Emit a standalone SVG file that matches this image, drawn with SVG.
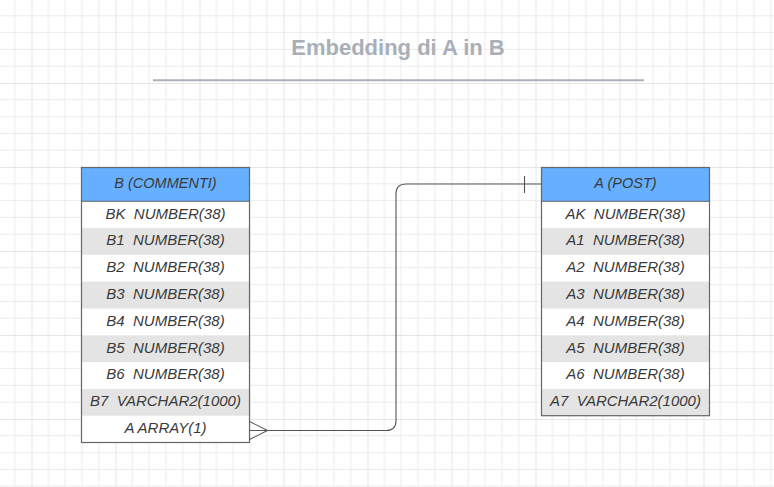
<svg xmlns="http://www.w3.org/2000/svg" width="774" height="487" viewBox="0 0 774 487">
  <defs>
    <pattern id="grid" patternUnits="userSpaceOnUse" x="31.5" y="83" width="84" height="84">
      <path d="M16.8 0V84M33.6 0V84M50.4 0V84M67.2 0V84M0 16.8H84M0 33.6H84M0 50.4H84M0 67.2H84" stroke="#ebebeb" stroke-width="1" fill="none"/>
      <path d="M0 0V84M0 0H84" stroke="#dedede" stroke-width="1.5" fill="none"/>
    </pattern>
    <style>
      .hdr { fill: #66b0ff; stroke: #666; stroke-width: 1; }
      .row { fill: #ffffff; }
      .alt { fill: #e4e4e4; }
      .frame { fill: none; stroke: #666; stroke-width: 1.2; }
      .t { font-family: "Liberation Sans", Arial, sans-serif; font-style: italic; font-size: 15px; fill: #3a3a3a; text-anchor: middle; white-space: pre; }
      .th { font-size: 14.5px; }
      .conn { fill: none; stroke: #555; stroke-width: 1.1; }
    </style>
  </defs>
  <rect width="774" height="487" fill="#ffffff"/>
  <rect width="774" height="487" fill="url(#grid)"/>

  <g id="title">
    <text x="398" y="54.5" font-family="Liberation Sans, Arial, sans-serif" font-weight="bold" font-size="22" fill="#a9afb9" text-anchor="middle">Embedding di A in B</text>
    <line x1="153" y1="80.3" x2="644" y2="80.3" stroke="#aab0bc" stroke-width="2"/>
  </g>

  <g id="tableB">
    <rect class="row" x="81.5" y="201.3" width="168" height="241.2"/>
    <rect class="alt" x="81.5" y="228.1" width="168" height="26.8"/>
    <rect class="alt" x="81.5" y="281.7" width="168" height="26.8"/>
    <rect class="alt" x="81.5" y="335.3" width="168" height="26.8"/>
    <rect class="alt" x="81.5" y="388.9" width="168" height="26.8"/>
    <rect class="hdr" x="81.5" y="167.5" width="168" height="33.8"/>
    <rect class="frame" x="81.5" y="167.5" width="168" height="275"/>
    <text class="t th" x="165.5" y="188">B (COMMENTI)</text>
    <text class="t" x="165.5" y="218.5">BK  NUMBER(38)</text>
    <text class="t" x="165.5" y="245.3">B1  NUMBER(38)</text>
    <text class="t" x="165.5" y="272.1">B2  NUMBER(38)</text>
    <text class="t" x="165.5" y="298.9">B3  NUMBER(38)</text>
    <text class="t" x="165.5" y="325.7">B4  NUMBER(38)</text>
    <text class="t" x="165.5" y="352.5">B5  NUMBER(38)</text>
    <text class="t" x="165.5" y="379.3">B6  NUMBER(38)</text>
    <text class="t" x="165.5" y="406.1">B7  VARCHAR2(1000)</text>
    <text class="t" x="165.5" y="432.9">A ARRAY(1)</text>
  </g>

  <g id="tableA">
    <rect class="row" x="541.5" y="201.3" width="168" height="214.4"/>
    <rect class="alt" x="541.5" y="228.1" width="168" height="26.8"/>
    <rect class="alt" x="541.5" y="281.7" width="168" height="26.8"/>
    <rect class="alt" x="541.5" y="335.3" width="168" height="26.8"/>
    <rect class="alt" x="541.5" y="388.9" width="168" height="26.8"/>
    <rect class="hdr" x="541.5" y="167.5" width="168" height="33.8"/>
    <rect class="frame" x="541.5" y="167.5" width="168" height="248.2"/>
    <text class="t th" x="625.5" y="188">A (POST)</text>
    <text class="t" x="625.5" y="218.5">AK  NUMBER(38)</text>
    <text class="t" x="625.5" y="245.3">A1  NUMBER(38)</text>
    <text class="t" x="625.5" y="272.1">A2  NUMBER(38)</text>
    <text class="t" x="625.5" y="298.9">A3  NUMBER(38)</text>
    <text class="t" x="625.5" y="325.7">A4  NUMBER(38)</text>
    <text class="t" x="625.5" y="352.5">A5  NUMBER(38)</text>
    <text class="t" x="625.5" y="379.3">A6  NUMBER(38)</text>
    <text class="t" x="625.5" y="406.1">A7  VARCHAR2(1000)</text>
  </g>

  <g id="connectors">
    <path class="conn" d="M249.5 430.5H386Q396 430.5 396 420.5V194Q396 184 406 184H541.5"/>
    <path class="conn" d="M249.5 421.5L267.5 430.5L249.5 439.5"/>
    <path class="conn" d="M524.5 176V193"/>
  </g>
</svg>
